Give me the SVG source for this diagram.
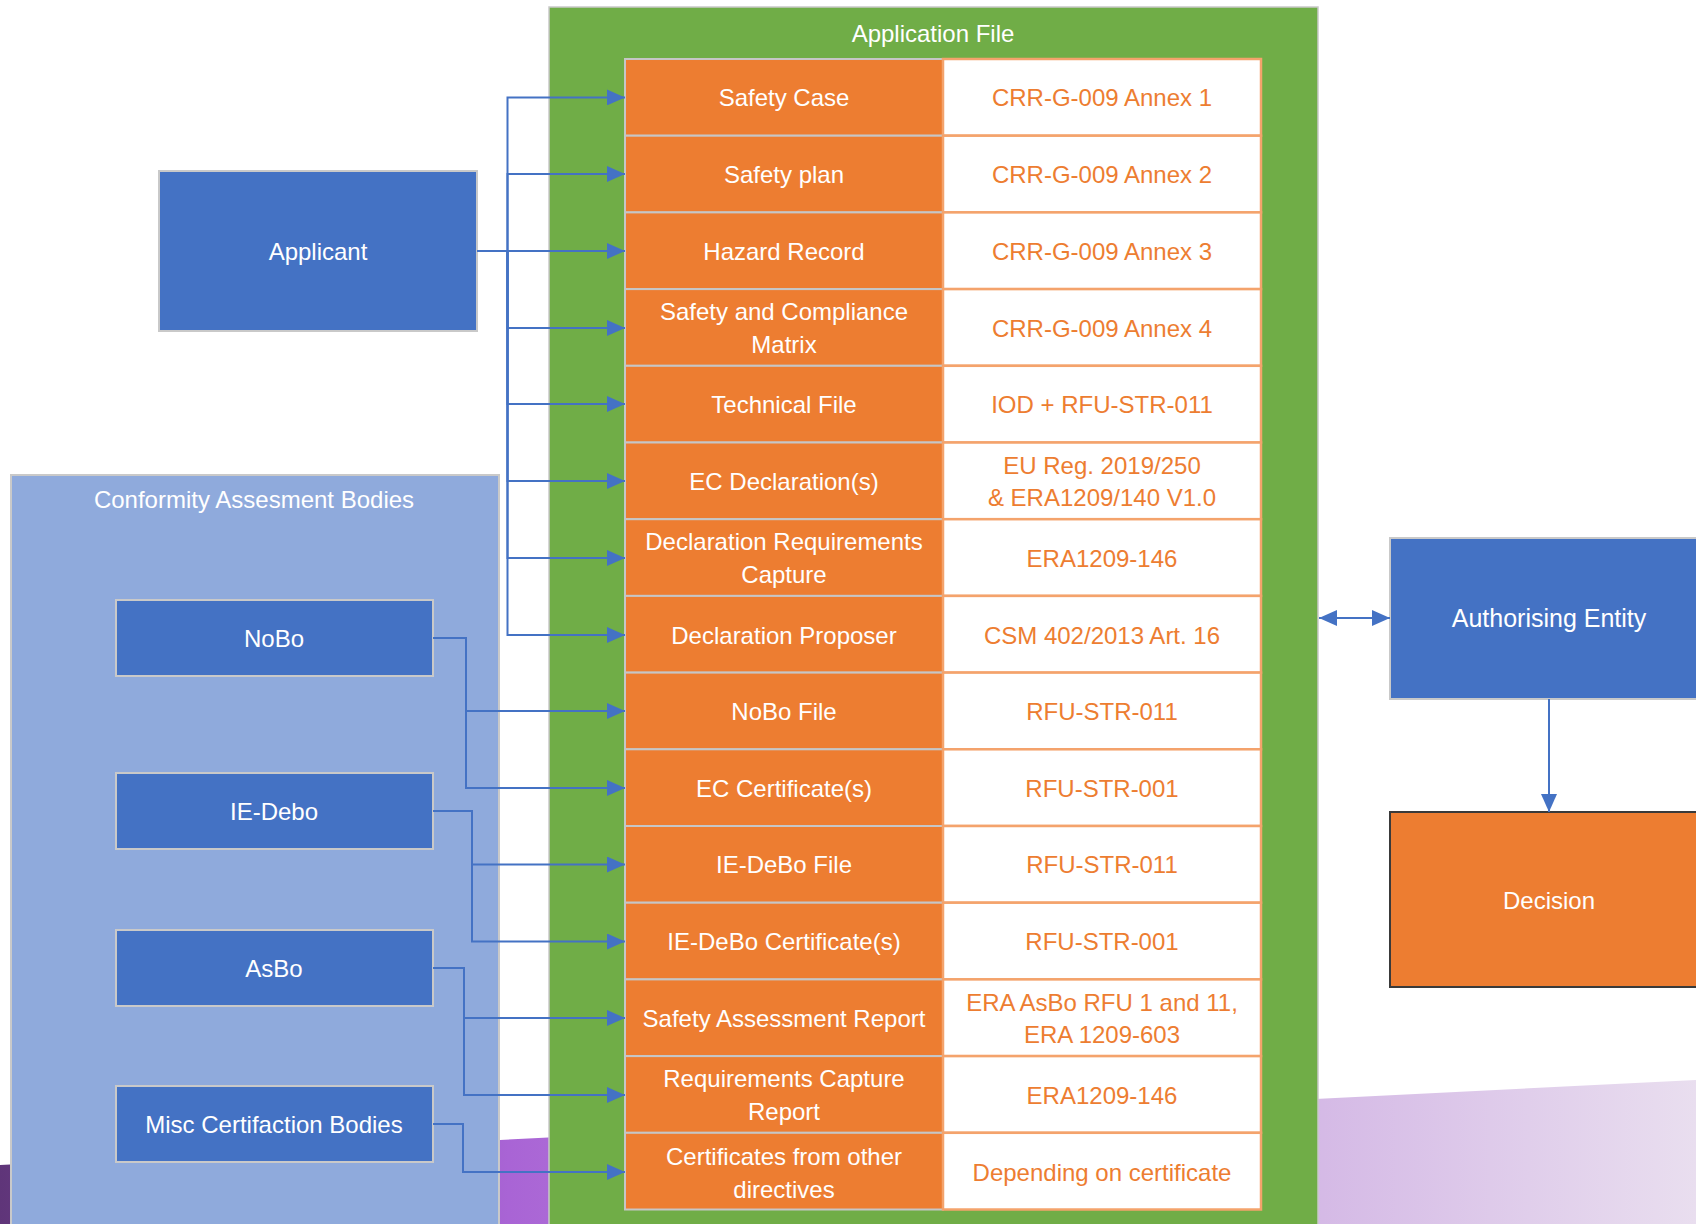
<svg xmlns="http://www.w3.org/2000/svg" width="1696" height="1224" viewBox="0 0 1696 1224">
<defs>
<linearGradient id="band" x1="0" y1="0" x2="1696" y2="0" gradientUnits="userSpaceOnUse">
<stop offset="0" stop-color="#5F3579"/>
<stop offset="0.3" stop-color="#A964D5"/>
<stop offset="0.78" stop-color="#D5BAE6"/>
<stop offset="1" stop-color="#E9DEEF"/>
</linearGradient>
<marker id="arr" markerUnits="userSpaceOnUse" markerWidth="18" markerHeight="16" refX="18" refY="8" orient="auto">
<path d="M0,0 L18,8 L0,16 z" fill="#4472C4"/>
</marker>
<marker id="arrs" markerUnits="userSpaceOnUse" markerWidth="18" markerHeight="16" refX="0" refY="8" orient="auto">
<path d="M18,0 L0,8 L18,16 z" fill="#4472C4"/>
</marker>
</defs>
<style>
text{font-family:"Liberation Sans",Arial,sans-serif;font-size:24px;text-anchor:middle;dominant-baseline:central}
.w{fill:#FFFFFF}
.o{fill:#ED7D31}
.blue{fill:#4472C4;stroke:#C9C9C9;stroke-width:2}
.oc{fill:#ED7D31;stroke:#C6C6C6;stroke-width:2}
.wc{fill:#FFFFFF;stroke:#F4A36C;stroke-width:2.5}
.con{fill:none;stroke:#4472C4;stroke-width:2}
</style>
<rect width="1696" height="1224" fill="#FFFFFF"/>
<polygon points="0,1165 1696,1080 1696,1224 0,1224" fill="url(#band)"/>

<g id="cab-group">
<rect x="11" y="475" width="488" height="760" fill="#8FAADC" stroke="#C9C9C9" stroke-width="2"/>
<text class="w" x="254" y="499">Conformity Assesment Bodies</text>
</g>

<g id="application-file">
<rect x="549" y="7" width="769" height="1230" fill="#70AD47" stroke="#C9C9C9" stroke-width="1.5"/>
<text class="w" x="933" y="33">Application File</text>
</g>

<g id="row-0"><rect class="oc" x="625" y="59" width="318" height="76.7"/><rect class="wc" x="943" y="59" width="318" height="76.7"/><text class="w" x="784" y="97.4">Safety Case</text><text class="o" x="1102" y="97.4">CRR-G-009 Annex 1</text></g>
<g id="row-1"><rect class="oc" x="625" y="135.7" width="318" height="76.7"/><rect class="wc" x="943" y="135.7" width="318" height="76.7"/><text class="w" x="784" y="174">Safety plan</text><text class="o" x="1102" y="174">CRR-G-009 Annex 2</text></g>
<g id="row-2"><rect class="oc" x="625" y="212.4" width="318" height="76.7"/><rect class="wc" x="943" y="212.4" width="318" height="76.7"/><text class="w" x="784" y="251">Hazard Record</text><text class="o" x="1102" y="251">CRR-G-009 Annex 3</text></g>
<g id="row-3"><rect class="oc" x="625" y="289.1" width="318" height="76.7"/><rect class="wc" x="943" y="289.1" width="318" height="76.7"/><text class="w" x="784" y="311.5">Safety and Compliance</text><text class="w" x="784" y="344.5">Matrix</text><text class="o" x="1102" y="328">CRR-G-009 Annex 4</text></g>
<g id="row-4"><rect class="oc" x="625" y="365.8" width="318" height="76.7"/><rect class="wc" x="943" y="365.8" width="318" height="76.7"/><text class="w" x="784" y="404">Technical File</text><text class="o" x="1102" y="404">IOD + RFU-STR-011</text></g>
<g id="row-5"><rect class="oc" x="625" y="442.5" width="318" height="76.7"/><rect class="wc" x="943" y="442.5" width="318" height="76.7"/><text class="w" x="784" y="481">EC Declaration(s)</text><text class="o" x="1102" y="465">EU Reg. 2019/250</text><text class="o" x="1102" y="497.5">&amp; ERA1209/140 V1.0</text></g>
<g id="row-6"><rect class="oc" x="625" y="519.2" width="318" height="76.7"/><rect class="wc" x="943" y="519.2" width="318" height="76.7"/><text class="w" x="784" y="541.5">Declaration Requirements</text><text class="w" x="784" y="574.5">Capture</text><text class="o" x="1102" y="558">ERA1209-146</text></g>
<g id="row-7"><rect class="oc" x="625" y="595.9" width="318" height="76.7"/><rect class="wc" x="943" y="595.9" width="318" height="76.7"/><text class="w" x="784" y="635">Declaration Proposer</text><text class="o" x="1102" y="635">CSM 402/2013 Art. 16</text></g>
<g id="row-8"><rect class="oc" x="625" y="672.6" width="318" height="76.7"/><rect class="wc" x="943" y="672.6" width="318" height="76.7"/><text class="w" x="784" y="711">NoBo File</text><text class="o" x="1102" y="711">RFU-STR-011</text></g>
<g id="row-9"><rect class="oc" x="625" y="749.3" width="318" height="76.7"/><rect class="wc" x="943" y="749.3" width="318" height="76.7"/><text class="w" x="784" y="788">EC Certificate(s)</text><text class="o" x="1102" y="788">RFU-STR-001</text></g>
<g id="row-10"><rect class="oc" x="625" y="826" width="318" height="76.7"/><rect class="wc" x="943" y="826" width="318" height="76.7"/><text class="w" x="784" y="864.5">IE-DeBo File</text><text class="o" x="1102" y="864.5">RFU-STR-011</text></g>
<g id="row-11"><rect class="oc" x="625" y="902.7" width="318" height="76.7"/><rect class="wc" x="943" y="902.7" width="318" height="76.7"/><text class="w" x="784" y="941.5">IE-DeBo Certificate(s)</text><text class="o" x="1102" y="941.5">RFU-STR-001</text></g>
<g id="row-12"><rect class="oc" x="625" y="979.4" width="318" height="76.7"/><rect class="wc" x="943" y="979.4" width="318" height="76.7"/><text class="w" x="784" y="1018">Safety Assessment Report</text><text class="o" x="1102" y="1002">ERA AsBo RFU 1 and 11,</text><text class="o" x="1102" y="1034.5">ERA 1209-603</text></g>
<g id="row-13"><rect class="oc" x="625" y="1056.1" width="318" height="76.7"/><rect class="wc" x="943" y="1056.1" width="318" height="76.7"/><text class="w" x="784" y="1078.5">Requirements Capture</text><text class="w" x="784" y="1111.5">Report</text><text class="o" x="1102" y="1095">ERA1209-146</text></g>
<g id="row-14"><rect class="oc" x="625" y="1132.8" width="318" height="76.7"/><rect class="wc" x="943" y="1132.8" width="318" height="76.7"/><text class="w" x="784" y="1156">Certificates from other</text><text class="w" x="784" y="1189">directives</text><text class="o" x="1102" y="1172">Depending on certificate</text></g>

<g id="applicant"><rect class="blue" x="159" y="171" width="318" height="160"/><text class="w" x="318" y="251">Applicant</text></g>
<g id="nobo"><rect class="blue" x="116" y="600" width="317" height="76"/><text class="w" x="274" y="638">NoBo</text></g>
<g id="ie-debo"><rect class="blue" x="116" y="773" width="317" height="76"/><text class="w" x="274" y="811">IE-Debo</text></g>
<g id="asbo"><rect class="blue" x="116" y="930" width="317" height="76"/><text class="w" x="274" y="968">AsBo</text></g>
<g id="misc"><rect class="blue" x="116" y="1086" width="317" height="76"/><text class="w" x="274" y="1124">Misc Certifaction Bodies</text></g>
<g id="authorising-entity"><rect class="blue" x="1390" y="538" width="320" height="161"/><text class="w" x="1549" y="618" style="font-size:25px">Authorising Entity</text></g>
<g id="decision"><rect x="1390" y="812" width="320" height="175" fill="#ED7D31" stroke="#3A3A3A" stroke-width="2"/><text class="w" x="1549" y="900">Decision</text></g>

<g id="connectors">
<path class="con" d="M477,251 H507.5 V97.4 H625" marker-end="url(#arr)"/>
<path class="con" d="M477,251 H507.5 V174 H625" marker-end="url(#arr)"/>
<path class="con" d="M477,251 H625" marker-end="url(#arr)"/>
<path class="con" d="M477,251 H507.5 V328 H625" marker-end="url(#arr)"/>
<path class="con" d="M477,251 H507.5 V404 H625" marker-end="url(#arr)"/>
<path class="con" d="M477,251 H507.5 V481 H625" marker-end="url(#arr)"/>
<path class="con" d="M477,251 H507.5 V558 H625" marker-end="url(#arr)"/>
<path class="con" d="M477,251 H507.5 V635 H625" marker-end="url(#arr)"/>
<path class="con" d="M433,638 H466 V711 H625" marker-end="url(#arr)"/>
<path class="con" d="M433,638 H466 V788 H625" marker-end="url(#arr)"/>
<path class="con" d="M433,811 H472 V864.5 H625" marker-end="url(#arr)"/>
<path class="con" d="M433,811 H472 V941.5 H625" marker-end="url(#arr)"/>
<path class="con" d="M433,968 H464 V1018 H625" marker-end="url(#arr)"/>
<path class="con" d="M433,968 H464 V1095 H625" marker-end="url(#arr)"/>
<path class="con" d="M433,1124 H463 V1172 H625" marker-end="url(#arr)"/>
<path class="con" d="M1319,618 H1390" marker-start="url(#arrs)" marker-end="url(#arr)"/>
<path class="con" d="M1549,699 V812" marker-end="url(#arr)"/>
</g>
</svg>
